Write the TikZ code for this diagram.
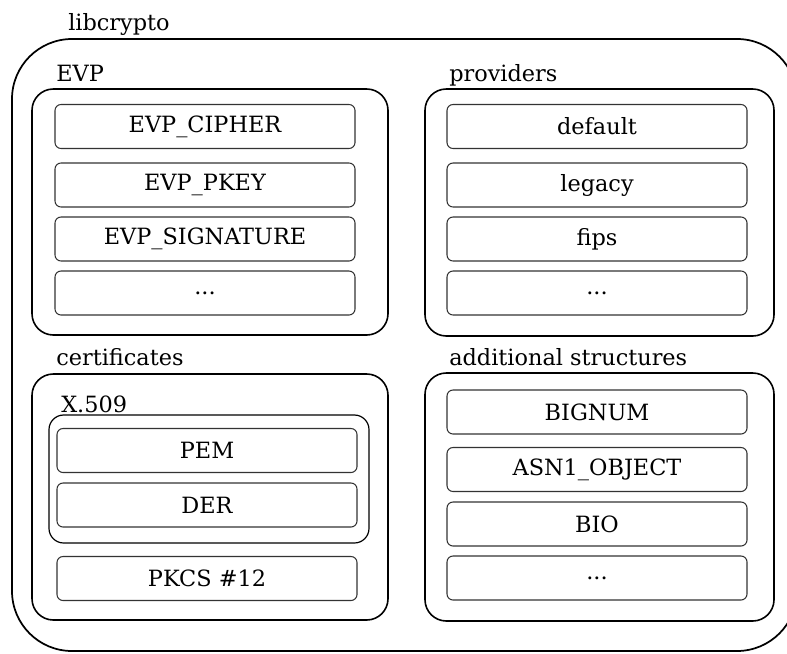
\documentclass[tikz,border=0pt]{standalone}
\usepackage{fontspec}
\setmainfont{DejaVu Serif}
\usetikzlibrary{positioning}

\begin{document}
\begin{tikzpicture}[x=0.75pt, y=-0.75pt,
    every node/.style={font=\fontsize{16.8}{20}\selectfont},
    outerbox/.style={draw, line width=1.3pt, rounded corners=45pt},
    grpbox/.style={draw, line width=1.2pt, rounded corners=16pt},
    subbox/.style={draw, line width=0.9pt, rounded corners=11pt},
    item/.style={draw=black!80, line width=0.8pt, rounded corners=4.5pt,
                 minimum width=225pt, minimum height=33pt, inner sep=0pt},
    lbl/.style={anchor=base west, inner sep=0pt}]
  \useasboundingbox (0,0) rectangle (787,653);
  \clip (0,0) rectangle (787,653);

  % libcrypto, runs past the right edge
  \node[lbl] (libcrypto) at (68,30) {libcrypto};
  \draw[outerbox] (12,39) rectangle (797,651);

  % EVP
  \node[lbl] (evp) at (56,81) {EVP};
  \draw[grpbox] (32,89) rectangle (388,335);
  \node[item] (cipher) at (205,126.5) {EVP\_CIPHER};
  \node[item] (pkey)   at (205,185)   {EVP\_PKEY};
  \node[item] (sig)    at (205,239)   {EVP\_SIGNATURE};
  \node[item] (evpmore) at (205,293)  {...};

  % providers
  \node[lbl] (prov) at (449,81) {providers};
  \draw[grpbox] (425,89) rectangle (774,336);
  \node[item] (default) at (597,126.5) {default};
  \node[item] (legacy)  at (597,185)   {legacy};
  \node[item] (fips)    at (597,239)   {fips};
  \node[item] (provmore) at (597,293)  {...};

  % certificates
  \node[lbl] (cert) at (56,365) {certificates};
  \draw[grpbox] (32,374) rectangle (388,620);
  \node[lbl] (x509) at (61,412) {X.509};
  \draw[subbox] (49,415) rectangle (369,543);
  \node[item] (pem)  at (207,450.5) {PEM};
  \node[item] (der)  at (207,505)   {DER};
  \node[item] (pkcs) at (207,578.5) {PKCS \#12};

  % additional structures
  \node[lbl] (addl) at (449,365) {additional structures};
  \draw[grpbox] (425,373) rectangle (774,621);
  \node[item] (bignum) at (597,412)   {BIGNUM};
  \node[item] (asn)    at (597,469.5) {ASN1\_OBJECT};
  \node[item] (bio)    at (597,524)   {BIO};
  \node[item] (addmore) at (597,578)  {...};
\end{tikzpicture}
\end{document}
